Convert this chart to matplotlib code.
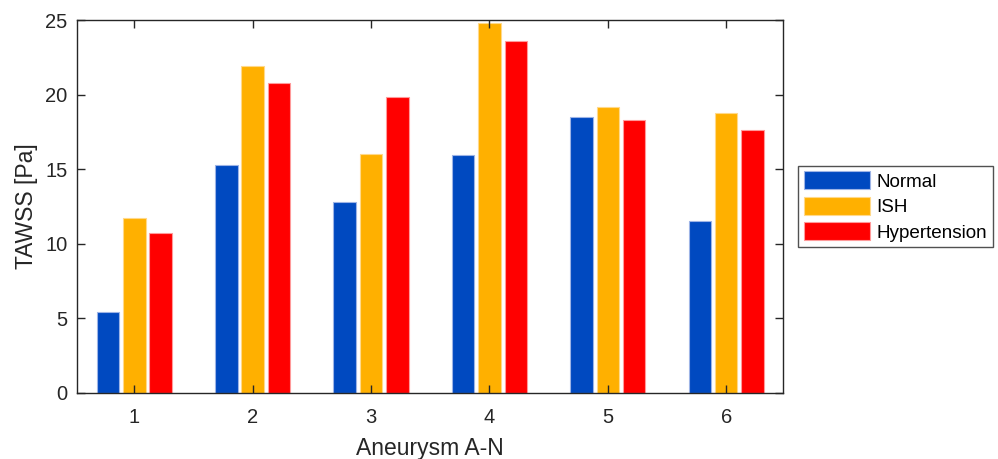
import matplotlib
matplotlib.use("Agg")
import matplotlib.pyplot as plt
import numpy as np

plt.rcParams['font.family'] = ['Liberation Sans', 'DejaVu Sans']

groups = ["1", "2", "3", "4", "5", "6"]
normal = [5.4, 15.25, 12.8, 15.97, 18.52, 11.5]
ish = [11.75, 21.9, 16.0, 24.78, 19.2, 18.75]
hypertension = [10.7, 20.76, 19.86, 23.57, 18.3, 17.63]
series_names = ["Normal", "ISH", "Hypertension"]
colors = ["#0049C0", "#FFB000", "#FF0000"]
edges = ["#9DB4E6", "#FFD98A", "#FF9A9A"]

fig = plt.figure(figsize=(9.98, 4.59), dpi=100)
ax = fig.add_axes([0.0772, 0.1438, 0.7078, 0.8126])

x = np.arange(1, len(groups) + 1)
offset = 0.223
width = 0.19
for i, (vals, name) in enumerate(zip([normal, ish, hypertension], series_names)):
    ax.bar(x + (i - 1) * offset, vals, width, color=colors[i], edgecolor=edges[i],
           linewidth=0.8, label=name)

ax.set_xlim(0.516, 6.484)
ax.set_ylim(0, 25)
ax.set_xticks(x)
ax.set_xticklabels(groups)
ax.set_yticks([0, 5, 10, 15, 20, 25])

dark = "#262626"
for s in ax.spines.values():
    s.set_color(dark)
    s.set_linewidth(1.0)
ax.tick_params(direction='in', length=6, width=1.0, color=dark, labelcolor=dark,
               labelsize=14.5, top=True, right=True, pad=7)
ax.tick_params(axis='x', pad=11)

ax.set_xlabel("Aneurysm A-N", fontsize=16.5, color=dark, labelpad=7)
ax.set_ylabel("TAWSS [Pa]", fontsize=16.5, color=dark, labelpad=5)

leg = ax.legend(loc='center left', bbox_to_anchor=(1.0208, 0.5), fontsize=13.6,
                handlelength=3.5, handleheight=1.08, labelspacing=0.32,
                handletextpad=0.35, borderpad=0.3, borderaxespad=0,
                frameon=True, fancybox=False, edgecolor=dark)
leg.get_frame().set_linewidth(1.0)

fig.savefig("out.png", dpi=100)
